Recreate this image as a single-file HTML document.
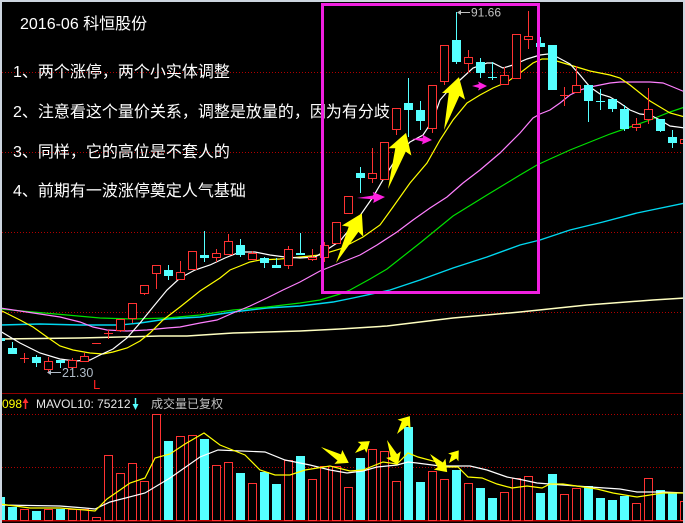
<!DOCTYPE html>
<html><head><meta charset="utf-8"><style>
html,body{margin:0;padding:0;background:#000;}
svg{display:block;}
</style></head><body>
<svg width="685" height="523" viewBox="0 0 685 523" xmlns="http://www.w3.org/2000/svg">
<rect x="0" y="0" width="685" height="523" fill="#000"/>
<!-- dotted grid -->
<g stroke="#b00000" stroke-width="1" stroke-dasharray="1 2" shape-rendering="crispEdges">
<line x1="2" y1="72.5" x2="683" y2="72.5"/>
<line x1="2" y1="152.5" x2="683" y2="152.5"/>
<line x1="2" y1="232.5" x2="683" y2="232.5"/>
<line x1="2" y1="312.5" x2="683" y2="312.5"/>
<line x1="2" y1="414.5" x2="683" y2="414.5"/>
<line x1="2" y1="467.5" x2="683" y2="467.5"/>
</g>
<line x1="0" y1="393.5" x2="685" y2="393.5" stroke="#900000" stroke-width="1" shape-rendering="crispEdges"/>
<line x1="0" y1="520.5" x2="685" y2="520.5" stroke="#c00000" stroke-width="1.5" shape-rendering="crispEdges"/>

<!-- MA lines main -->
<g fill="none" stroke-width="1.2">
<polyline stroke="#ffffc0" stroke-width="1.5" points="0,339 80,338 120,337 160,336 187,336 233,333 300,331 340,329 387,326 453,318 520,312 587,305 653,300 685,298"/>
<polyline stroke="#00d8f0" stroke-width="1.4" points="0,325 40,324 80,325 120,325 140,323 167,319 200,317 233,312 267,308 300,306 333,302 353,298 390,290 420,280 453,268 487,257 520,245 540,240 570,230 603,222 637,213 685,203"/>
<polyline stroke="#00e000" points="0,309 33,312 67,315 100,318 133,319 167,318 200,315 233,310 267,307 300,303 320,300 340,294 350,290 370,279 387,269 420,243 453,216 487,195 520,175 537,165 550,159 570,150 590,142 610,134 630,127 650,120 670,112 685,107"/>
<polyline stroke="#ff80ff" points="0,308 20,311 40,314 60,317 80,322 93,327 107,330 127,331 147,330 167,328 180,327 200,323 217,320 233,313 250,306 267,298 283,290 300,282 320,271 340,263 360,255 377,245 397,232 413,220 430,208 447,197 463,183 480,170 500,153 520,133 533,118 540,114 550,110 560,103 570,95 580,90 590,87 600,85 610,83 620,82 650,82 663,83 673,87 685,92"/>
<polyline stroke="#ffff00" points="0,310 20,320 33,327 47,337 60,346 73,350 90,353 103,354 113,352 127,348 140,341 150,333 163,320 180,307 200,291 220,278 230,270 240,266 250,262 260,260 280,259 300,257 320,255 340,249 363,237 380,225 393,207 410,183 427,163 440,140 453,120 467,103 480,95 493,88 507,82 520,73 533,63 542,59 550,59 560,62 570,65 580,68 590,71 600,73 610,75 620,78 630,85 640,93 650,101 660,107 670,113 685,117"/>
<polyline stroke="#ffffff" points="0,331 20,343 40,353 60,359 75,361 90,360 100,355 113,349 127,338 140,323 153,307 167,290 180,278 195,270 210,265 225,258 240,252 255,252 270,255 285,257 300,258 315,257 325,251 340,241 357,220 373,197 387,173 400,153 410,142 423,135 433,120 440,100 447,92 460,80 473,68 487,63 493,63 503,68 513,65 527,59 540,55 548,54 557,57 570,64 580,75 590,87 600,94 610,97 620,103 630,110 640,114 650,115 660,120 670,126 685,128"/>
</g>

<!-- candles: wicks -->
<g stroke="#ff3232" stroke-width="1" shape-rendering="crispEdges" fill="none">
<line x1="24.5" y1="353" x2="24.5" y2="363"/><line x1="20" y1="358.5" x2="29" y2="358.5"/>
<line x1="48.5" y1="357" x2="48.5" y2="361"/><line x1="48.5" y1="370" x2="48.5" y2="373"/>
<line x1="72.5" y1="358" x2="72.5" y2="360"/>
<line x1="84.5" y1="353" x2="84.5" y2="356"/>
<line x1="92" y1="343.5" x2="101" y2="343.5"/>
<line x1="108.5" y1="330" x2="108.5" y2="339"/><line x1="104" y1="333.5" x2="113" y2="333.5"/>
<line x1="120.5" y1="330" x2="120.5" y2="332"/>
<line x1="132.5" y1="318" x2="132.5" y2="323"/>
<line x1="144.5" y1="293" x2="144.5" y2="295"/>
<line x1="156.5" y1="273" x2="156.5" y2="289"/>
<line x1="180.5" y1="261" x2="180.5" y2="272"/>
<line x1="216.5" y1="249" x2="216.5" y2="253"/><line x1="216.5" y1="257" x2="216.5" y2="262"/>
<line x1="228.5" y1="234" x2="228.5" y2="241"/>
<line x1="252.5" y1="251" x2="252.5" y2="253"/>
<line x1="288.5" y1="246" x2="288.5" y2="249"/><line x1="288.5" y1="265" x2="288.5" y2="269"/>
<line x1="312.5" y1="249" x2="312.5" y2="257"/><line x1="312.5" y1="259" x2="312.5" y2="261"/>
<line x1="324.5" y1="242" x2="324.5" y2="245"/><line x1="324.5" y1="257" x2="324.5" y2="262"/>
<line x1="372.5" y1="148" x2="372.5" y2="173"/><line x1="372.5" y1="178" x2="372.5" y2="183"/>
<line x1="396.5" y1="129" x2="396.5" y2="135"/>
<line x1="432.5" y1="128" x2="432.5" y2="133"/>
<line x1="444.5" y1="81" x2="444.5" y2="85"/>
<line x1="468.5" y1="50" x2="468.5" y2="57"/><line x1="468.5" y1="63" x2="468.5" y2="73"/>
<line x1="504.5" y1="67" x2="504.5" y2="75"/>
<line x1="528.5" y1="11" x2="528.5" y2="36"/><line x1="528.5" y1="39" x2="528.5" y2="49"/>
<line x1="564.5" y1="87" x2="564.5" y2="106"/><line x1="560" y1="95.5" x2="569" y2="95.5"/>
<line x1="576.5" y1="66" x2="576.5" y2="85"/>
<line x1="636.5" y1="118" x2="636.5" y2="124"/><line x1="636.5" y1="127" x2="636.5" y2="131"/>
<line x1="648.5" y1="88" x2="648.5" y2="109"/><line x1="648.5" y1="119" x2="648.5" y2="124"/>
</g>
<g stroke="#55ffff" stroke-width="1" shape-rendering="crispEdges" fill="none">
<line x1="12.5" y1="342" x2="12.5" y2="354"/>
<line x1="36.5" y1="355" x2="36.5" y2="367"/>
<line x1="60.5" y1="360" x2="60.5" y2="368"/>
<line x1="168.5" y1="265" x2="168.5" y2="280"/>
<line x1="204.5" y1="231" x2="204.5" y2="262"/>
<line x1="240.5" y1="239" x2="240.5" y2="257"/>
<line x1="264.5" y1="257" x2="264.5" y2="268"/>
<line x1="276.5" y1="258" x2="276.5" y2="268"/>
<line x1="300.5" y1="233" x2="300.5" y2="255"/>
<line x1="360.5" y1="167" x2="360.5" y2="193"/>
<line x1="408.5" y1="78" x2="408.5" y2="137"/>
<line x1="420.5" y1="101" x2="420.5" y2="130"/>
<line x1="456.5" y1="12" x2="456.5" y2="64"/>
<line x1="480.5" y1="58" x2="480.5" y2="78"/>
<line x1="492.5" y1="62" x2="492.5" y2="80"/><line x1="488" y1="77.5" x2="497" y2="77.5"/>
<line x1="540.5" y1="37" x2="540.5" y2="47"/>
<line x1="588.5" y1="85" x2="588.5" y2="122"/>
<line x1="600.5" y1="89" x2="600.5" y2="110"/><line x1="596" y1="101.5" x2="605" y2="101.5"/>
<line x1="612.5" y1="99" x2="612.5" y2="112"/>
<line x1="624.5" y1="105" x2="624.5" y2="131"/>
<line x1="660.5" y1="119" x2="660.5" y2="132"/>
<line x1="672.5" y1="130" x2="672.5" y2="148"/>
</g>
<!-- red hollow bodies -->
<g stroke="#ff3232" stroke-width="1" fill="#000" shape-rendering="crispEdges">
<rect x="44.5" y="361.5" width="8" height="8"/>
<rect x="68.5" y="360.5" width="8" height="7"/>
<rect x="80.5" y="356.5" width="8" height="5"/>
<rect x="116.5" y="319.5" width="8" height="11"/>
<rect x="128.5" y="303.5" width="8" height="15"/>
<rect x="140.5" y="285.5" width="8" height="8"/>
<rect x="152.5" y="265.5" width="8" height="8"/>
<rect x="176.5" y="272.5" width="8" height="7"/>
<rect x="188.5" y="251.5" width="8" height="18"/>
<rect x="212.5" y="253.5" width="8" height="4"/>
<rect x="224.5" y="241.5" width="8" height="13"/>
<rect x="248.5" y="253.5" width="8" height="6"/>
<rect x="284.5" y="249.5" width="8" height="16"/>
<rect x="308.5" y="257.5" width="8" height="2"/>
<rect x="320.5" y="245.5" width="8" height="12"/>
<rect x="332.5" y="222.5" width="8" height="21"/>
<rect x="344.5" y="196.5" width="8" height="17"/>
<rect x="368.5" y="173.5" width="8" height="5"/>
<rect x="380.5" y="142.5" width="8" height="37"/>
<rect x="392.5" y="108.5" width="8" height="21"/>
<rect x="428.5" y="85.5" width="8" height="43"/>
<rect x="440.5" y="45.5" width="8" height="36"/>
<rect x="464.5" y="57.5" width="8" height="6"/>
<rect x="500.5" y="75.5" width="8" height="9"/>
<rect x="512.5" y="34.5" width="8" height="44"/>
<rect x="524.5" y="36.5" width="8" height="3"/>
<rect x="572.5" y="85.5" width="8" height="7"/>
<rect x="632.5" y="124.5" width="8" height="3"/>
<rect x="644.5" y="109.5" width="8" height="10"/>
<rect x="680.5" y="139.5" width="8" height="4"/>
</g>
<!-- cyan bodies -->
<g fill="#55ffff" shape-rendering="crispEdges">
<rect x="-4" y="338" width="9" height="3"/>
<rect x="8" y="348" width="9" height="6"/>
<rect x="32" y="357" width="9" height="6"/>
<rect x="56" y="360" width="9" height="3"/>
<rect x="164" y="270" width="9" height="6"/>
<rect x="200" y="255" width="9" height="3"/>
<rect x="236" y="245" width="9" height="10"/>
<rect x="260" y="258" width="9" height="5"/>
<rect x="272" y="265" width="9" height="3"/>
<rect x="296" y="253" width="9" height="2"/>
<rect x="356" y="173" width="9" height="5"/>
<rect x="404" y="103" width="9" height="7"/>
<rect x="416" y="110" width="9" height="11"/>
<rect x="452" y="40" width="9" height="22"/>
<rect x="476" y="62" width="9" height="11"/>
<rect x="536" y="43" width="9" height="4"/>
<rect x="548" y="45" width="9" height="45"/>
<rect x="584" y="85" width="9" height="16"/>
<rect x="608" y="99" width="9" height="10"/>
<rect x="620" y="109" width="9" height="20"/>
<rect x="656" y="119" width="9" height="12"/>
<rect x="668" y="137" width="9" height="6"/>
</g>

<!-- price labels -->
<g font-family="Liberation Sans, sans-serif" font-size="12">
<line x1="458" y1="12.5" x2="470" y2="12.5" stroke="#c0c0c0" stroke-width="1"/>
<polygon points="457,12.5 461,10 461,15" fill="#c0c0c0"/>
<text x="471" y="16.5" fill="#c0c0c0">91.66</text>
<line x1="49" y1="372.5" x2="61" y2="372.5" stroke="#b0bcc8" stroke-width="1"/>
<polygon points="47,372.5 51,370 51,375" fill="#b0bcc8"/>
<text x="62" y="377" fill="#b0bcc8" font-size="12.5">21.30</text>
<text x="93" y="389" fill="#ff2020" font-size="13">L</text>
</g>

<!-- annotation text -->
<g font-family="Liberation Sans, Noto Sans CJK SC, sans-serif" font-size="16" fill="#ffffff">
<text x="20" y="29">2016-06 科恒股份</text>
<text x="13" y="77">1、两个涨停，两个小实体调整</text>
<text x="13" y="117">2、注意看这个量价关系，调整是放量的，因为有分歧</text>
<text x="13" y="157">3、同样，它的高位是不套人的</text>
<text x="13" y="196">4、前期有一波涨停奠定人气基础</text>
</g>

<!-- yellow arrows main -->
<g fill="#ffff00">
<polygon transform="translate(336,263) rotate(-62.5)" points="0,0 38,-5.5 36,-12 56,0 36,12 38,5.5"/>
<polygon transform="translate(388,189) rotate(-72.2)" points="0,0 41,-5.5 39,-12 59,0 39,12 41,5.5"/>
<polygon transform="translate(444,130) rotate(-74.2)" points="0,0 37,-5.5 35,-12 55,0 35,12 37,5.5"/>
</g>
<g fill="#ff20e0">
<polygon transform="translate(357,198) rotate(-2)" points="0,0 17,-2 16,-5.5 28,0 16,5.5 17,2"/>
<polygon transform="translate(412,139) rotate(3)" points="0,0 11,-2 10,-5 20,0 10,5 11,2"/>
<polygon transform="translate(472,86)" points="0,0 7,-2 6,-4.5 15,0 6,4.5 7,2"/>
</g>

<!-- magenta box -->
<rect x="322.5" y="4.5" width="216" height="288" fill="none" stroke="#f020e0" stroke-width="3"/>

<!-- volume bars -->
<g stroke="#ff3232" stroke-width="1" fill="#000" shape-rendering="crispEdges">
<rect x="20.5" y="509.5" width="8" height="11"/>
<rect x="44.5" y="509.5" width="8" height="11"/>
<rect x="68.5" y="509.5" width="8" height="11"/>
<rect x="80.5" y="509.5" width="8" height="11"/>
<rect x="92.5" y="517.5" width="8" height="3"/>
<rect x="104.5" y="455.5" width="8" height="65"/>
<rect x="116.5" y="473.5" width="8" height="47"/>
<rect x="128.5" y="463.5" width="8" height="57"/>
<rect x="140.5" y="481.5" width="8" height="39"/>
<rect x="152.5" y="414.5" width="8" height="106"/>
<rect x="176.5" y="436.5" width="8" height="84"/>
<rect x="188.5" y="435.5" width="8" height="85"/>
<rect x="212.5" y="465.5" width="8" height="55"/>
<rect x="224.5" y="462.5" width="8" height="58"/>
<rect x="248.5" y="483.5" width="8" height="37"/>
<rect x="284.5" y="460.5" width="8" height="60"/>
<rect x="308.5" y="479.5" width="8" height="41"/>
<rect x="320.5" y="466.5" width="8" height="54"/>
<rect x="332.5" y="466.5" width="8" height="54"/>
<rect x="344.5" y="487.5" width="8" height="33"/>
<rect x="368.5" y="449.5" width="8" height="71"/>
<rect x="380.5" y="451.5" width="8" height="69"/>
<rect x="392.5" y="481.5" width="8" height="39"/>
<rect x="428.5" y="471.5" width="8" height="49"/>
<rect x="440.5" y="479.5" width="8" height="41"/>
<rect x="464.5" y="483.5" width="8" height="37"/>
<rect x="500.5" y="492.5" width="8" height="28"/>
<rect x="512.5" y="478.5" width="8" height="42"/>
<rect x="524.5" y="476.5" width="8" height="44"/>
<rect x="560.5" y="494.5" width="8" height="26"/>
<rect x="572.5" y="488.5" width="8" height="32"/>
<rect x="632.5" y="503.5" width="8" height="17"/>
<rect x="644.5" y="478.5" width="8" height="42"/>
<rect x="680.5" y="501.5" width="8" height="19"/>
</g>
<g fill="#55ffff" shape-rendering="crispEdges">
<rect x="-4" y="497" width="9" height="23"/>
<rect x="8" y="507" width="9" height="13"/>
<rect x="32" y="511" width="9" height="9"/>
<rect x="56" y="509" width="9" height="11"/>
<rect x="164" y="441" width="9" height="79"/>
<rect x="200" y="439" width="9" height="81"/>
<rect x="236" y="473" width="9" height="47"/>
<rect x="260" y="472" width="9" height="48"/>
<rect x="272" y="484" width="9" height="36"/>
<rect x="296" y="456" width="9" height="64"/>
<rect x="356" y="458" width="9" height="62"/>
<rect x="404" y="427" width="9" height="93"/>
<rect x="416" y="482" width="9" height="38"/>
<rect x="452" y="470" width="9" height="50"/>
<rect x="476" y="488" width="9" height="32"/>
<rect x="488" y="498" width="9" height="22"/>
<rect x="536" y="493" width="9" height="27"/>
<rect x="548" y="474" width="9" height="46"/>
<rect x="584" y="486" width="9" height="34"/>
<rect x="596" y="498" width="9" height="22"/>
<rect x="608" y="500" width="9" height="20"/>
<rect x="620" y="496" width="9" height="24"/>
<rect x="656" y="490" width="9" height="30"/>
<rect x="668" y="493" width="9" height="27"/>
</g>
<!-- volume MAs -->
<g fill="none" stroke-width="1.2">
<polyline stroke="#ffffff" points="0,505 60,506 85,508 95,509 110,502 145,493 170,478 200,457 218,450 265,452 285,460 310,465 330,470 347,473 363,471 377,467 397,465 408,462 417,463 440,466 470,466 487,470 507,477 523,480 537,483 563,485 590,487 620,489 637,492 663,492 685,493"/>
<polyline stroke="#ffff00" points="0,504 30,508 60,508 85,510 95,511 107,499 120,490 130,483 145,478 155,458 170,454 185,444 204,433 220,445 245,455 260,470 275,475 290,475 305,470 330,466 350,471 363,470 383,462 397,464 408,453 418,457 437,462 445,467 458,467 468,477 482,478 497,484 512,488 527,486 542,488 550,484 563,484 583,487 597,489 613,493 637,497 650,495 663,493 685,493"/>
</g>
<!-- volume arrows -->
<g fill="#ffff00">
<polygon transform="translate(321,447) rotate(29.7)" points="0,0 21,-3.5 20,-8 32,0 20,8 21,3.5"/>
<polygon transform="translate(355,453) rotate(-38.7)" points="0,0 10,-3 9,-7 19,0 9,7 10,3"/>
<polygon transform="translate(387,440) rotate(66.3)" points="0,0 17,-3.5 16,-8 27,0 16,8 17,3.5"/>
<polygon transform="translate(397,434) rotate(-54.2)" points="0,0 13,-3.5 12,-8 22,0 12,8 13,3.5"/>
<polygon transform="translate(430,454) rotate(46.6)" points="0,0 15,-3.5 14,-8 25,0 14,8 15,3.5"/>
<polygon transform="translate(449,463) rotate(-52.4)" points="0,0 8,-3 7,-6.5 16,0 7,6.5 8,3"/>
</g>
<!-- volume legend -->
<g font-family="Liberation Sans, Noto Sans CJK SC, sans-serif" font-size="12">
<text x="2" y="408" fill="#ffff00">098</text>
<line x1="25.5" y1="401" x2="25.5" y2="409" stroke="#ff3030" stroke-width="1.5"/>
<polygon points="25.5,398 22.5,403 28.5,403" fill="#ff3030"/>
<text x="36" y="408" fill="#e8e8e8">MAVOL10: 75212</text>
<line x1="135.5" y1="398" x2="135.5" y2="405" stroke="#55ffff" stroke-width="1.5"/>
<polygon points="135.5,410 132.5,404 138.5,404" fill="#55ffff"/>
<text x="151" y="408" fill="#c0c0c0">成交量已复权</text>
</g>

<!-- borders -->
<rect x="0" y="0" width="685" height="2" fill="#cdd5df"/>
<rect x="0" y="0" width="2" height="523" fill="#cdd5df"/>
<rect x="683" y="0" width="2" height="523" fill="#cdd5df"/>
</svg>
</body></html>
